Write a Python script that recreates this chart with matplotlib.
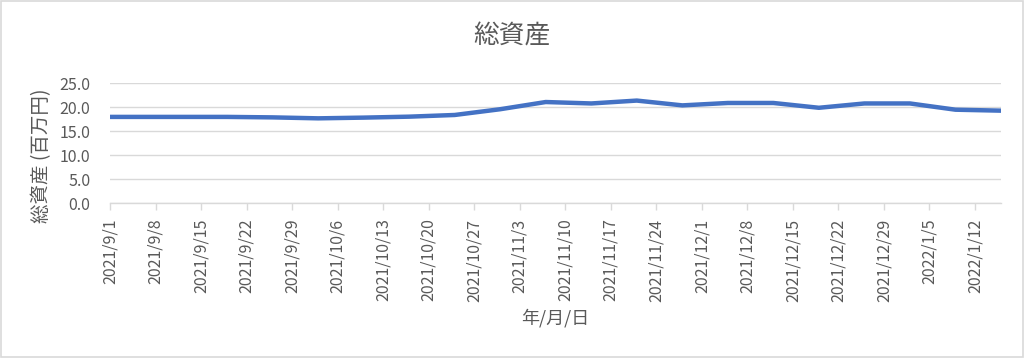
import pandas as pd
import numpy as np
import matplotlib
matplotlib.use("Agg")
import matplotlib.pyplot as plt
from matplotlib.patches import Rectangle

plt.rcParams['font.family'] = ['Noto Sans CJK JP', 'DejaVu Sans']

# Weekly total assets (million yen)
dates = pd.to_datetime([
    "2021-09-01", "2021-09-05", "2021-09-12", "2021-09-19", "2021-09-26",
    "2021-10-03", "2021-10-10", "2021-10-17", "2021-10-24", "2021-10-31",
    "2021-11-07", "2021-11-14", "2021-11-21", "2021-11-28", "2021-12-05",
    "2021-12-12", "2021-12-19", "2021-12-26", "2022-01-02", "2022-01-09",
    "2022-01-16",
])
assets = [
    18.0, 18.0, 18.0, 18.0, 17.9,
    17.7, 17.85, 18.05, 18.4, 19.6,
    21.1, 20.8, 21.4, 20.4, 20.9,
    20.9, 19.9, 20.8, 20.8, 19.5,
    19.3,
]
tick_dates = pd.date_range("2021-09-01", "2022-01-12", freq="7D")
tick_labels = [f"{d.year}/{d.month}/{d.day}" for d in tick_dates]
y_ticks = [0, 5, 10, 15, 20, 25]

text_color = "#595959"
grid_color = "#D9D9D9"

fig = plt.figure(figsize=(10.24, 3.6), dpi=100)
ax = fig.add_axes([110 / 1024, 1 - 203.3 / 360, 891 / 1024, 120 / 360])

ax.plot(dates, assets, color="#4472C4", linewidth=3.2,
        solid_joinstyle="round", solid_capstyle="round")

ax.set_xlim(dates[0], dates[-1])
ax.set_ylim(0, 25)
ax.set_yticks(y_ticks)
ax.set_yticklabels([f"{v:.1f}" for v in y_ticks])
ax.set_xticks(tick_dates)
ax.set_xticklabels(tick_labels, rotation=90)

ax.grid(axis="y", color=grid_color, linewidth=1)
ax.set_axisbelow(True)
for side in ["top", "right", "left"]:
    ax.spines[side].set_visible(False)
ax.spines["bottom"].set_color(grid_color)
ax.spines["bottom"].set_linewidth(1)

ax.tick_params(axis="y", length=0, pad=14, labelsize=11.5, labelcolor=text_color)
ax.tick_params(axis="x", length=5, width=1, color=grid_color, pad=6,
               labelsize=11.5, labelcolor=text_color)

fig.text(42 / 1024, 1 - 156 / 360, "総資産 (百万円)", fontsize=14, rotation=90,
         color=text_color, ha="center", va="center")
fig.text(555.5 / 1024, 1 - 318 / 360, "年/月/日", fontsize=13,
         color=text_color, ha="center", va="center")
fig.text(512 / 1024, 1 - 36 / 360, "総資産", fontsize=18.5,
         color=text_color, ha="center", va="center")

fig.patches.append(Rectangle((0.5 / 1024, 3 / 360), 1022 / 1024, 356 / 360,
                             transform=fig.transFigure, fill=False,
                             edgecolor=grid_color, linewidth=1.2))

fig.savefig("out.png", dpi=100)
